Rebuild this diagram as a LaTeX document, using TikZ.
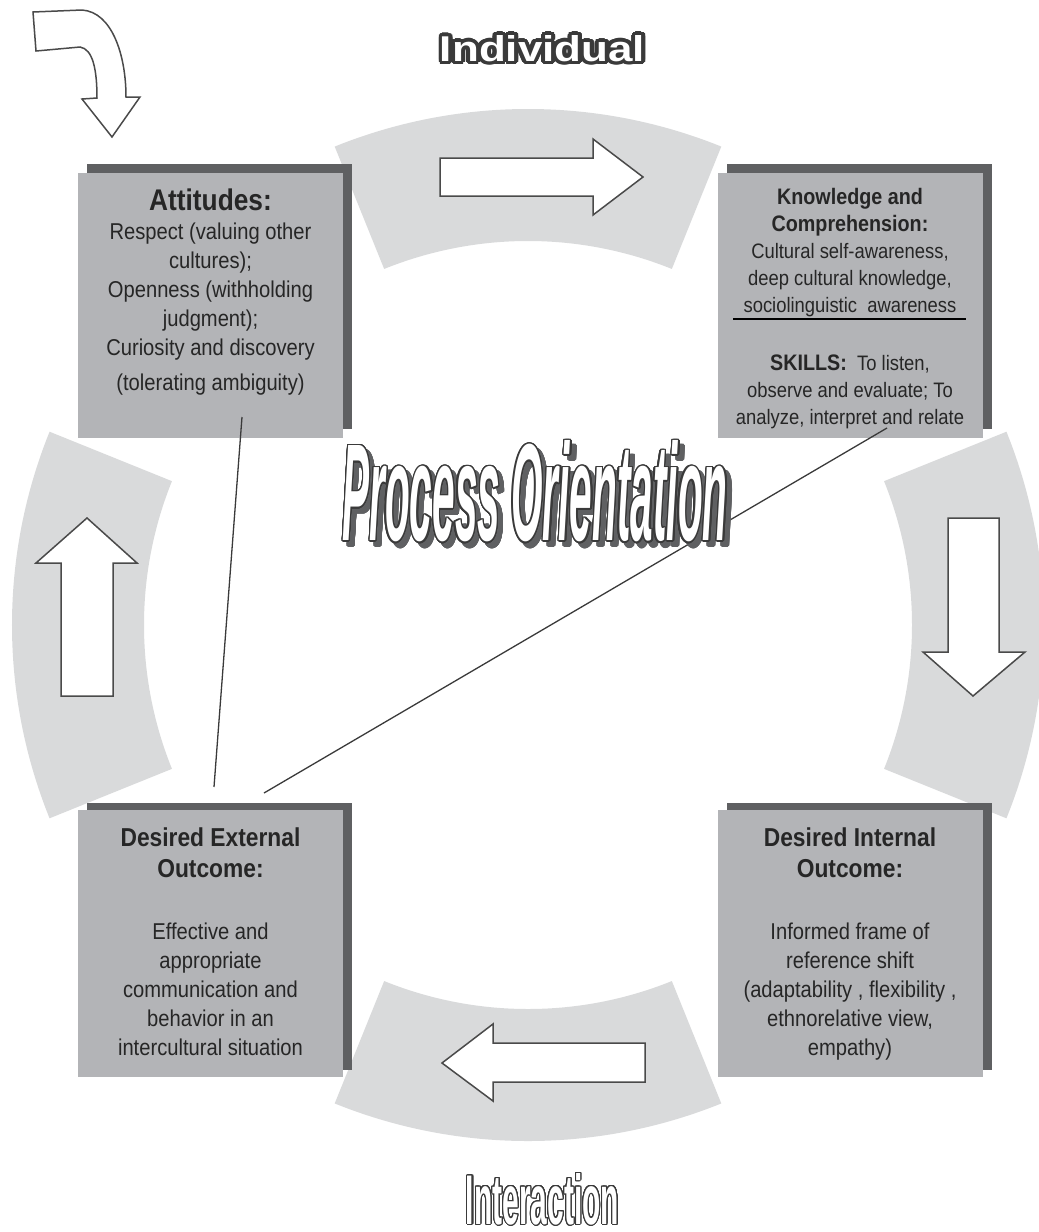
\documentclass[tikz,border=0pt]{standalone}
\usepackage{fontspec}
\setmainfont{Liberation Sans}[FakeStretch=0.88]
\newfontfamily\plainsans{Liberation Sans}
\usepackage{contour}
\contournumber{24}
\usetikzlibrary{calc}
\definecolor{ringgray}{HTML}{D9DADB}
\definecolor{boxgray}{HTML}{B3B4B7}
\definecolor{shadowgray}{HTML}{5F6062}
\definecolor{txtgray}{HTML}{262626}
\definecolor{arrowline}{HTML}{4A4A4A}
\definecolor{outlinegray}{HTML}{3A3A3A}
\tikzset{
  mainbox/.style={fill=boxgray, draw=none, minimum width=265bp, minimum height=265bp, inner sep=0pt},
  shadowbox/.style={fill=shadowgray, draw=none, minimum width=265bp, minimum height=265bp, inner sep=0pt},
  txt/.style={align=center, inner sep=0pt, text=txtgray, font=\fontsize{23}{29}\selectfont},
  blockarrow/.style={fill=white, draw=arrowline, line width=1.5bp, line join=miter},
  conn/.style={draw=outlinegray, line width=1.3bp},
  ring/.style={fill=ringgray, draw=none},
  outlined/.style={inner sep=0pt, text=white}
}
\newcommand\ringseg[1]{%
  \fill[ring] ([shift={(#1-22:516bp)}]C) arc[start angle=#1-22, end angle=#1+22, radius=516bp]
    -- ([shift={(#1+22:384bp)}]C) arc[start angle=#1+22, end angle=#1-22, radius=384bp] -- cycle;}
\begin{document}
\begin{tikzpicture}[x=1bp, y=-1bp]
\useasboundingbox (0,0) rectangle (1039,1232);
\clip (0,0) rectangle (1039,1232);
\coordinate (C) at (528,625);
% ring segments
\ringseg{90}
\ringseg{0}
\ringseg{270}
\ringseg{180}
% block arrows on ring
\draw[blockarrow] (440,158) -- (593,158) -- (593,139) -- (643,177) -- (593,215) -- (593,196) -- (440,196) -- cycle;
\draw[blockarrow] (948,518) -- (999,518) -- (999,652) -- (1025,652) -- (973,696) -- (923,652) -- (948,652) -- cycle;
\draw[blockarrow] (645,1043) -- (493,1043) -- (493,1024) -- (442,1063) -- (493,1101) -- (493,1082) -- (645,1082) -- cycle;
\draw[blockarrow] (61,696) -- (61,563) -- (36,563) -- (87,518) -- (137,563) -- (113,563) -- (113,696) -- cycle;
% curved entry arrow
\draw[blockarrow] (33,12) -- (82,10) .. controls (112,12) and (126,55) .. (126,97) -- (140,97) -- (112,137) -- (82,99) -- (97,98) .. controls (97,70) and (93,49) .. (80,47) -- (36,51) -- cycle;
% boxes
\node[shadowbox] (attS) at (219.5,296.5) {};
\node[mainbox] (att) at (210.5,305.5) {};
\node[shadowbox] (knowS) at (859,296.5) {};
\node[mainbox] (know) at (850,305.5) {};
\node[shadowbox, minimum height=267bp] (extS) at (219.5,936.5) {};
\node[mainbox, minimum height=267bp] (ext) at (210.5,943.5) {};
\node[shadowbox, minimum height=267bp] (intS) at (859,936.5) {};
\node[mainbox, minimum height=267bp] (int) at (850,943.5) {};
% texts (anchor base = baseline of last line)
\node[txt, anchor=base] (attT) at (210.5,390) {{\fontsize{30}{29}\selectfont\bfseries Attitudes:}\\
  Respect (valuing other\\ cultures);\\ Openness (withholding\\ judgment);\\ Curiosity and discovery\\[6bp] (tolerating ambiguity)};
\node[txt, font=\fontsize{21}{27}\selectfont, anchor=base] (knowT) at (850,424) {{\fontsize{22.5}{27}\selectfont\bfseries Knowledge and}\\
  {\fontsize{22.5}{27}\selectfont\bfseries Comprehension:}\\ Cultural self-awareness,\\ deep cultural knowledge,\\ sociolinguistic\ \ awareness\\[31bp]
  {\fontsize{22.5}{27}\selectfont\bfseries SKILLS:}\ \ To listen,\\ observe and evaluate; To\\ analyze, interpret and relate};
\coordinate (ruleL) at (733,319);
\coordinate (ruleR) at (966,319);
\draw[line width=2bp, black] (ruleL) -- (ruleR);
\node[txt, anchor=base] (extT) at (210.5,1055) {{\fontsize{26}{29}\selectfont\bfseries Desired External}\\[2bp]
  {\fontsize{26}{29}\selectfont\bfseries Outcome:}\\[33bp] Effective and\\ appropriate\\ communication and\\ behavior in an\\ intercultural situation};
\node[txt, anchor=base] (intT) at (850,1055) {{\fontsize{26}{29}\selectfont\bfseries Desired Internal}\\[2bp]
  {\fontsize{26}{29}\selectfont\bfseries Outcome:}\\[33bp] Informed frame of\\ reference shift\\ (adaptability , flexibility ,\\ ethnorelative view,\\ empathy)};
% connecting lines
\coordinate (l1a) at (242,417);
\coordinate (l1b) at (214,787);
\coordinate (l2a) at (887,428);
\coordinate (l2b) at (264,793);
\draw[conn] (l1a) -- (l1b);
\draw[conn] (l2a) -- (l2b);
% outlined titles
\contourlength{0.9bp}
\node[outlined] (indiv) at (542.5,50) {\resizebox{205bp}{26bp}{\contour{outlinegray}{\plainsans\bfseries Individual}}};
\contourlength{1.4bp}
\node[inner sep=0pt, text=shadowgray] (procS) at (540,497) {\contour{shadowgray}{\resizebox{385bp}{100bp}{\plainsans\bfseries\itshape Process Orientation}}};
\node[outlined] (proc) at (535,492) {\contour{outlinegray}{\resizebox{385bp}{100bp}{\plainsans\bfseries\itshape Process Orientation}}};
\contourlength{1.1bp}
\node[outlined] (inter) at (542.5,1199.5) {\contour{outlinegray}{\resizebox{153bp}{51bp}{\plainsans\bfseries Interaction}}};
\end{tikzpicture}
\end{document}
